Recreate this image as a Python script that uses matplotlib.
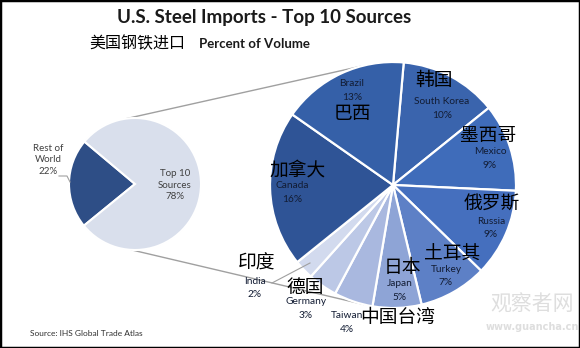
import numpy as np
import matplotlib.pyplot as plt
from matplotlib.patches import Rectangle

# share of US steel import volume
overview_labels = ["Rest of\nWorld", "Top 10\nSources"]
overview_values = [22, 78]

countries_en = ["South Korea", "Mexico", "Russia", "Turkey", "Japan",
                "Taiwan", "Germany", "India", "Canada", "Brazil"]
countries_cn = ["韩国", "墨西哥", "俄罗斯", "土耳其", "日本",
                "中国台湾", "德国", "印度", "加拿大", "巴西"]
country_values = [10, 9, 9, 7, 5, 4, 3, 2, 16, 13]

slice_colors = ["#3a64ad", "#3f6cba", "#456fbe", "#5d80c6", "#8ea4d6",
                "#a9b8df", "#bcc8e6", "#d2daee", "#2f5496", "#3560a8"]

W, H = 580, 348
CJK = ["Noto Sans CJK SC", "DejaVu Sans"]
LAT = "Lato"
label_col = "#121c33"

fig = plt.figure(figsize=(W / 100, H / 100), dpi=100)
ax = fig.add_axes([0, 0, 1, 1])


def Y(y):
    # image rows run downwards
    return H - y


# small pie: rest of world vs top 10
small_c, small_r = (135, Y(184)), 66
ax.pie(overview_values, colors=["#2e4e86", "#d9dfec"], startangle=140,
       center=small_c, radius=small_r, frame=True,
       wedgeprops=dict(edgecolor="white", linewidth=1.5))

# big pie: breakdown of the top 10
big_c, big_r = (393, Y(185)), 123
ax.pie(country_values, colors=slice_colors, startangle=85, counterclock=False,
       center=big_c, radius=big_r, frame=True,
       wedgeprops=dict(edgecolor="white", linewidth=1.6))
ax.set_xlim(0, W)
ax.set_ylim(0, H)
ax.set_aspect("equal")
ax.axis("off")


def rim(c, r, deg):
    a = np.radians(deg)
    return c[0] + r * np.cos(a), c[1] + r * np.sin(a)


# connector lines between the two pies
for a_small, a_big in [(97, 105), (267, 256)]:
    p, q = rim(small_c, small_r, a_small), rim(big_c, big_r, a_big)
    ax.plot([p[0], q[0]], [p[1], q[1]], color="#a0a0a0", lw=1.0, zorder=0)

# titles
ax.text(264, Y(18), "U.S. Steel Imports - Top 10 Sources", family=LAT,
        fontweight="bold", fontsize=13.5, ha="center", va="center", color="#1a1a1a")
ax.text(89, Y(44), "美国钢铁进口", family=CJK, fontsize=11.5, ha="left",
        va="center", color="black")
ax.text(199, Y(44), "Percent of Volume", family=LAT, fontweight="bold",
        fontsize=9.5, ha="left", va="center", color="#1a1a1a")

# small pie labels
ax.text(175, Y(185), "Top 10\nSources\n78%", family=LAT, fontsize=7,
        ha="center", va="center", color="#404040", linespacing=1.35)
ax.text(48, Y(160), "Rest of\nWorld\n22%", family=LAT, fontsize=7,
        ha="center", va="center", color="#404040", linespacing=1.35)
ax.plot([59, 67, 70], [Y(176), Y(176), Y(182)], color="#a0a0a0", lw=0.8)

# label positions: Chinese name centre, English name centre (percent sits below it)
cn_pos = [(434, 80), (488, 136), (492, 203), (452, 254), (402, 268),
          (398, 317), (305, 288), (257, 263), (298, 170), (352, 113)]
en_pos = [(442, 102), (490, 152), (491, 221), (446, 269), (400, 284),
          (347, 316), (306, 302), (255, 281), (292, 186), (352, 84)]

for name_en, name_cn, v, (cx, cy), (ex, ey) in zip(
        countries_en, countries_cn, country_values, cn_pos, en_pos):
    ax.text(cx, Y(cy), name_cn, family=CJK, fontsize=13.5, ha="center",
            va="center", color="black", zorder=5)
    ax.text(ex, Y(ey), name_en, family=LAT, fontsize=7.3, ha="center",
            va="center", color=label_col, zorder=5)
    ax.text(ex, Y(ey + 13.5), f"{v}%", family=LAT, fontsize=7.3,
            ha="center", va="center", color=label_col, zorder=5)

# leader line for India
ax.plot([272, 310], [Y(283), Y(263)], color="#a0a0a0", lw=0.8)

ax.text(30, Y(333), "Source: IHS Global Trade Atlas", family=LAT, fontsize=6,
        ha="left", va="center", color="#303030")

# site watermark
ax.text(532, Y(305), "观察者网", family=CJK, fontsize=15, ha="center",
        va="center", color="#dedede", zorder=6)
ax.text(532, Y(327), "www.guancha.cn", family="DejaVu Sans", fontweight="bold",
        fontsize=7, ha="center", va="center", color="#dedede", zorder=6)

# outer frame
fig.patches.append(Rectangle((0, 0), 1, 1, transform=fig.transFigure,
                             fill=False, edgecolor="black", linewidth=2.5))

fig.savefig("out.png", dpi=100, facecolor="white")
